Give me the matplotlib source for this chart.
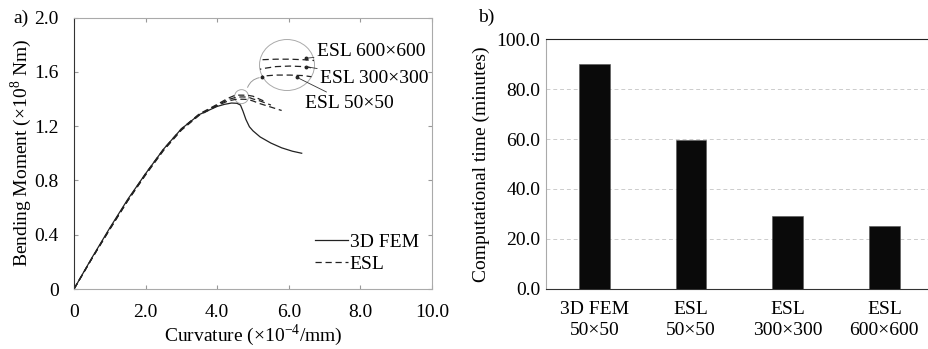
import numpy as np
import matplotlib
matplotlib.use("Agg")
import matplotlib.pyplot as plt
from matplotlib.patches import Ellipse, FancyArrowPatch

plt.rcParams['font.family'] = ['Liberation Serif', 'DejaVu Serif']
plt.rcParams['mathtext.fontset'] = 'custom'
plt.rcParams['mathtext.rm'] = 'Liberation Serif'
plt.rcParams['font.size'] = 14

# moment-curvature data (curvature x1e-4/mm, moment x1e8 Nm)
fem_x = [0, 0.5, 1.0, 1.5, 2.0, 2.5, 3.0, 3.5, 4.0, 4.2, 4.4, 4.55, 4.65, 4.72, 4.8, 4.9, 5.0, 5.2, 5.5, 5.8, 6.1, 6.36]
fem_y = [0, 0.23, 0.45, 0.66, 0.85, 1.03, 1.18, 1.285, 1.345, 1.36, 1.37, 1.368, 1.355, 1.31, 1.25, 1.195, 1.165, 1.12, 1.075, 1.04, 1.015, 1.0]

esl50_x = [0, 0.5, 1.0, 1.5, 2.0, 2.5, 3.0, 3.5, 4.0, 4.3, 4.5, 4.6, 4.7, 4.8, 4.9, 5.0, 5.2, 5.5, 5.8]
esl50_y = [0, 0.225, 0.44, 0.65, 0.84, 1.02, 1.17, 1.28, 1.35, 1.385, 1.396, 1.398, 1.398, 1.397, 1.393, 1.385, 1.365, 1.34, 1.315]
esl300_x = [0, 0.5, 1.0, 1.5, 2.0, 2.5, 3.0, 3.5, 4.0, 4.3, 4.5, 4.6, 4.7, 4.8, 4.9, 5.0, 5.2, 5.5]
esl300_y = [0, 0.225, 0.44, 0.65, 0.845, 1.025, 1.175, 1.285, 1.355, 1.395, 1.41, 1.414, 1.415, 1.414, 1.41, 1.40, 1.385, 1.355]
esl600_x = [0, 0.5, 1.0, 1.5, 2.0, 2.5, 3.0, 3.5, 4.0, 4.3, 4.5, 4.6, 4.7, 4.8, 4.9, 5.0, 5.3]
esl600_y = [0, 0.225, 0.445, 0.655, 0.85, 1.03, 1.18, 1.29, 1.36, 1.405, 1.427, 1.428, 1.428, 1.427, 1.425, 1.42, 1.385]

# computational time
cases = ['3D FEM\n50×50', 'ESL\n50×50', 'ESL\n300×300', 'ESL\n600×600']
minutes = [90.0, 59.6, 29.3, 25.0]

fig = plt.figure(figsize=(9.29, 3.49), dpi=100)
ax1 = fig.add_axes([74/929, 1-289/349, 358/929, 271.5/349])
ax2 = fig.add_axes([546/929, 1-288.7/349, 386.7/929, 249.4/349])

# ---- panel a ----
ax1.plot(fem_x, fem_y, color='#222222', lw=0.9, label='3D FEM')
ax1.plot(esl50_x, esl50_y, color='#222222', lw=0.9, ls=(0, (5, 3)), label='ESL')
ax1.plot(esl300_x, esl300_y, color='#222222', lw=0.9, ls=(0, (5, 3)))
ax1.plot(esl600_x, esl600_y, color='#222222', lw=0.9, ls=(0, (5, 3)))

# magnifier: small circle at the peak, big circle with enlarged view
cs = (4.68, 1.417)
cb = (5.95, 1.65)
mag = 3.9
small = Ellipse(cs, 2*7/35.8, 2*7/135.75, fill=False, ec='#aaaaaa', lw=0.7)
big = Ellipse(cb, 2*27.5/35.8, 2*25.5/135.75, fill=False, ec='#aaaaaa', lw=0.7)
ax1.add_patch(small)
ax1.add_patch(big)
for xs, ys in [(esl50_x, esl50_y), (esl300_x, esl300_y), (esl600_x, esl600_y)]:
    mx = cb[0] + (np.array(xs) - cs[0]) * mag
    my = cb[1] + (np.array(ys) - cs[1]) * mag
    ln, = ax1.plot(mx, my, color='#222222', lw=0.9, ls=(0, (5, 3)))
    ln.set_clip_path(big)

conn = FancyArrowPatch(((246.7-74)/35.8, (289-90)/135.75), ((262-74)/35.8, (289-77.3)/135.75),
                       connectionstyle='arc3,rad=-0.35', arrowstyle='-', color='#999999', lw=0.7)
ax1.add_patch(conn)
ax1.plot([(262-74)/35.8], [(289-77.3)/135.75], 'o', ms=1.8, color='#222222')

ann = dict(arrowstyle='-', color='#333333', lw=0.6, shrinkA=0, shrinkB=0)
ax1.annotate('ESL 600×600', xy=(6.48, 1.70), xytext=(6.78, 1.748), va='center', arrowprops=ann)
ax1.annotate('ESL 300×300', xy=(6.48, 1.638), xytext=(6.87, 1.552), va='center', arrowprops=ann)
ax1.annotate('ESL 50×50', xy=(6.22, 1.56), xytext=(6.45, 1.368), va='center', arrowprops=ann)
ax1.plot([6.48, 6.48, 6.22], [1.70, 1.638, 1.56], 'o', ms=1.8, color='#222222')

ax1.set_xlim(0, 10)
ax1.set_ylim(0, 2.0)
ax1.set_xticks([0, 2, 4, 6, 8, 10])
ax1.set_xticklabels(['0', '2.0', '4.0', '6.0', '8.0', '10.0'])
ax1.set_yticks([0, 0.4, 0.8, 1.2, 1.6, 2.0])
ax1.set_yticklabels(['0', '0.4', '0.8', '1.2', '1.6', '2.0'])
ax1.tick_params(direction='in', length=3, color='#999999', top=True, right=True)
ax1.tick_params(axis='y', pad=11)
ax1.tick_params(axis='x', pad=11)
for s in ['top', 'right', 'bottom']:
    ax1.spines[s].set_color('#aaaaaa')
ax1.spines['left'].set_color('#333333')
for s in ax1.spines.values():
    s.set_linewidth(0.8)
ax1.set_xlabel('Curvature (×10$^{-4}$/mm)', labelpad=1)
ax1.set_ylabel('Bending Moment (×10$^{8}$ Nm)', labelpad=0)
ax1.legend(loc='lower right', bbox_to_anchor=(0.985, 0.03), frameon=False,
           handlelength=1.7, handletextpad=0.1, labelspacing=0.25, borderaxespad=0)
fig.text(13/929, 1-18/349, 'a)', va='center', ha='left')

# ---- panel b ----
ax2.bar(range(len(cases)), minutes, width=0.32, color='#0a0a0a', edgecolor='#555555', lw=0.4, zorder=3)
ax2.set_xlim(-0.5, 3.5)
ax2.set_ylim(0, 100)
ax2.set_yticks([0, 20, 40, 60, 80, 100])
ax2.set_yticklabels(['0.0', '20.0', '40.0', '60.0', '80.0', '100.0'])
ax2.set_xticks(range(len(cases)))
ax2.set_xticklabels(cases, linespacing=1.3)
ax2.yaxis.grid(True, ls=(0, (4, 3)), color='#cccccc', lw=0.7)
ax2.tick_params(length=0, pad=4)
ax2.tick_params(axis='x', pad=9)
ax2.spines['right'].set_visible(False)
ax2.spines['top'].set_color('#222222')
ax2.spines['left'].set_color('#aaaaaa')
ax2.spines['bottom'].set_color('#333333')
ax2.set_ylabel('Computational time (minutes)', labelpad=5)
fig.text(478/929, 1-17/349, 'b)', va='center', ha='left')

fig.savefig('out.png', dpi=100)
